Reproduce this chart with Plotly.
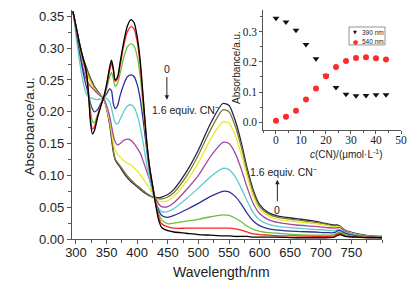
import plotly.graph_objects as go

# ---------------- data ----------------
wavelength = [295, 300, 305, 310, 315, 318, 321, 324, 327, 330, 335, 340, 345, 350, 355,
              358, 361, 364, 368, 372, 378, 384, 390, 395, 400, 405, 410, 415, 420, 425,
              430, 435, 440, 450, 460, 480, 500, 520, 540, 550, 560, 570, 580, 590, 600,
              615, 630, 660, 690, 710, 722, 728, 732, 740, 760, 780, 800]

abs_0_0 = [.358, .335, .310, .290, .272, .255, .220, .180, .165, .170, .190, .207, .222, .243, .270,
           .281, .268, .250, .255, .277, .310, .335, .345, .340, .318, .280, .220, .160, .115, .085,
           .055, .030, .018, .013, .011, .009, .007, .006, .005, .005, .004, .004, .004, .003, .003,
           .003, .003, .002, .002, .002, .003, .006, .007, .004, .003, .002, .002]
abs_0_2 = [.358, .335, .310, .289, .270, .253, .222, .187, .173, .176, .192, .208, .222, .240, .265,
           .276, .265, .248, .252, .272, .304, .326, .334, .330, .310, .273, .216, .158, .115, .085,
           .057, .035, .024, .019, .017, .017, .017, .017, .017, .017, .016, .014, .011, .008, .007,
           .006, .005, .005, .004, .004, .005, .008, .009, .005, .003, .003, .002]
abs_0_4 = [.358, .333, .306, .284, .266, .252, .228, .200, .185, .183, .195, .209, .221, .236, .255,
           .262, .252, .240, .245, .260, .285, .302, .307, .303, .287, .255, .205, .153, .112, .085,
           .060, .040, .030, .024, .025, .028, .031, .035, .038, .037, .033, .027, .020, .015, .012,
           .010, .009, .007, .006, .006, .007, .010, .011, .007, .004, .003, .003]
abs_0_6 = [.358, .330, .300, .271, .247, .236, .224, .212, .204, .200, .203, .212, .221, .228, .236,
           .233, .213, .205, .210, .225, .243, .255, .258, .255, .243, .220, .185, .145, .108, .082,
           .060, .045, .037, .034, .037, .046, .056, .067, .075, .074, .067, .055, .040, .028, .021,
           .016, .014, .012, .011, .010, .010, .013, .013, .009, .005, .004, .003]
abs_0_8 = [.358, .320, .285, .255, .233, .226, .223, .222, .221, .220, .219, .220, .221, .221, .215,
           .206, .193, .183, .181, .188, .200, .209, .211, .207, .195, .176, .150, .120, .094, .074,
           .058, .048, .043, .043, .048, .063, .080, .098, .111, .109, .098, .080, .059, .041, .030,
           .023, .020, .017, .015, .014, .013, .015, .015, .010, .006, .004, .003]
abs_1_0 = [.358, .330, .300, .275, .256, .249, .244, .240, .237, .234, .229, .225, .221, .210, .193,
           .178, .163, .153, .148, .150, .155, .157, .155, .150, .143, .135, .122, .108, .094, .079,
           .064, .055, .051, .051, .057, .077, .100, .130, .152, .150, .135, .110, .080, .055, .040,
           .030, .026, .022, .020, .018, .017, .018, .018, .012, .006, .004, .003]
abs_1_2 = [.358, .332, .305, .283, .268, .260, .252, .246, .240, .236, .230, .226, .221, .207, .187,
           .170, .152, .140, .133, .129, .123, .119, .116, .112, .107, .101, .094, .087, .080, .071,
           .064, .060, .059, .060, .067, .090, .120, .157, .184, .182, .163, .133, .097, .066, .047,
           .036, .031, .027, .024, .021, .019, .020, .019, .013, .007, .004, .003]
abs_1_4 = [.358, .333, .310, .288, .272, .265, .257, .250, .244, .239, .232, .226, .221, .206, .183,
           .163, .140, .126, .120, .115, .107, .099, .093, .088, .084, .080, .076, .072, .069, .066,
           .064, .063, .063, .066, .073, .098, .132, .172, .203, .200, .178, .145, .105, .072, .051,
           .039, .034, .030, .026, .023, .020, .020, .019, .013, .007, .005, .004]
abs_1_6 = [.358, .334, .312, .290, .275, .267, .259, .252, .246, .240, .233, .227, .221, .205, .180,
           .158, .137, .125, .118, .113, .104, .096, .090, .086, .082, .078, .074, .071, .068, .066,
           .065, .065, .066, .070, .078, .105, .140, .182, .213, .210, .187, .152, .110, .076, .054,
           .041, .036, .032, .028, .024, .022, .022, .020, .014, .008, .005, .004]

spectra = [abs_1_6, abs_1_4, abs_1_2, abs_1_0, abs_0_8, abs_0_6, abs_0_4, abs_0_2, abs_0_0]
colors = ["#23234f", "#7d7a32", "#eaea2a", "#a545a5", "#5ccccc", "#2f2f9c", "#66c236", "#ff2020", "#000000"]

# inset titration data
conc = [0, 4, 8, 12, 16, 20, 24, 28, 32, 36, 40, 44]
a390 = [0.345, 0.332, 0.305, 0.258, 0.210, 0.155, 0.115, 0.093, 0.088, 0.089, 0.091, 0.091]
a540 = [0.005, 0.018, 0.038, 0.075, 0.112, 0.152, 0.183, 0.203, 0.213, 0.215, 0.212, 0.208]

x_ticks = [300, 350, 400, 450, 500, 550, 600, 650, 700, 750]
y_ticks = [0.00, 0.05, 0.10, 0.15, 0.20, 0.25, 0.30, 0.35]
inset_x_ticks = [0, 10, 20, 30, 40, 50]
inset_y_ticks = [0.0, 0.1, 0.2, 0.3]

# ---------------- figure ----------------
fig = go.Figure()
for ys, c in zip(spectra, colors):
    fig.add_trace(go.Scatter(x=wavelength, y=ys, mode="lines",
                             line=dict(color=c, width=1.3, shape="spline", smoothing=0.7),
                             xaxis="x", yaxis="y", showlegend=False, hoverinfo="skip"))

fig.add_trace(go.Scatter(x=conc, y=a390, mode="markers", xaxis="x2", yaxis="y2",
                         marker=dict(symbol="triangle-down", size=6, color="#111111"),
                         showlegend=False))
fig.add_trace(go.Scatter(x=conc, y=a540, mode="markers", xaxis="x2", yaxis="y2",
                         marker=dict(symbol="circle", size=6, color="#ff2a2a"),
                         showlegend=False))

axis_common = dict(showline=True, linecolor="#555555", linewidth=1.2, ticks="outside",
                   tickcolor="#555555", showgrid=False, zeroline=False, mirror=False,
                   automargin=False)
main_font = dict(family="Liberation Sans, Arial, sans-serif", size=13, color="#222222")
serif_font = dict(family="Liberation Serif, Times New Roman, serif", size=11.5, color="#222222")

fig.update_layout(
    width=418, height=286, autosize=False,
    margin=dict(l=72, r=13, t=10, b=46.7, pad=0),
    plot_bgcolor="white", paper_bgcolor="white",
    xaxis=dict(domain=[0, 0.931], range=[293.5, 800], tickvals=x_ticks, ticklen=4,
               tickfont=main_font, anchor="y", ticklabelstandoff=-3,
               minor=dict(dtick=25, tick0=300, ticklen=2.5, ticks="outside", tickcolor="#555555"),
               **axis_common),
    yaxis=dict(domain=[0, 1], range=[0, 0.36], tickvals=y_ticks, tickformat=".2f", ticklen=4,
               tickfont=main_font, anchor="x",
               minor=dict(dtick=0.025, tick0=0, ticklen=2.5, ticks="outside", tickcolor="#555555"),
               **axis_common),
    xaxis2=dict(domain=[0.575, 0.988], range=[-5, 50], tickvals=inset_x_ticks, ticklen=3,
                tickfont=serif_font, anchor="y2", ticklabelstandoff=-4,
                minor=dict(dtick=5, tick0=0, ticklen=2, ticks="outside", tickcolor="#555555"),
                **axis_common),
    yaxis2=dict(domain=[0.477, 1], range=[-0.025, 0.372], tickvals=inset_y_ticks, tickformat=".1f",
                ticklen=3, tickfont=serif_font, anchor="x2",
                minor=dict(dtick=0.05, tick0=0, ticklen=2, ticks="outside", tickcolor="#555555"),
                **axis_common),
    showlegend=False,
)

sans = "Liberation Sans, Arial, sans-serif"
ann = []
# axis titles
ann.append(dict(text="Wavelength/nm", xref="paper", yref="paper", x=0.449, y=-0.1426,
                xanchor="center", yanchor="middle", showarrow=False,
                font=dict(family=sans, size=14, color="#222")))
ann.append(dict(text="Absorbance/a.u.", xref="paper", yref="paper", x=-0.126, y=0.491,
                textangle=-90, xanchor="center", yanchor="middle", showarrow=False,
                font=dict(family=sans, size=13.5, color="#222")))
ann.append(dict(text="<i>c</i>(CN)/(μmol·L<sup>-1</sup>)", xref="paper", yref="paper", x=0.823, y=0.372,
                xanchor="center", yanchor="middle", showarrow=False,
                font=dict(family=sans, size=10, color="#222")))
ann.append(dict(text="Absorbance/a.u.", xref="paper", yref="paper", x=0.4955, y=0.747,
                textangle=-90, xanchor="center", yanchor="middle", showarrow=False,
                font=dict(family=sans, size=10, color="#222")))
# spectral annotations
tf = dict(family=sans, size=10.5, color="#222")
ann.append(dict(text="0", x=448.5, y=0.268, xref="x", yref="y", showarrow=False, font=tf))
ann.append(dict(text="", x=448.5, y=0.219, ax=448.5, ay=0.257, xref="x", yref="y",
                axref="x", ayref="y", showarrow=True, arrowhead=2, arrowsize=0.9,
                arrowwidth=1, arrowcolor="#222"))
ann.append(dict(text="1.6 equiv. CN<sup>−</sup>", x=421, y=0.203, xref="x", yref="y",
                xanchor="left", showarrow=False, font=tf))
ann.append(dict(text="1.6 equiv. CN<sup>−</sup>", x=581, y=0.106, xref="x", yref="y",
                xanchor="left", showarrow=False, font=tf))
ann.append(dict(text="", x=629, y=0.093, ax=629, ay=0.057, xref="x", yref="y",
                axref="x", ayref="y", showarrow=True, arrowhead=2, arrowsize=0.9,
                arrowwidth=1, arrowcolor="#222"))
ann.append(dict(text="0", x=629, y=0.046, xref="x", yref="y", showarrow=False, font=tf))
# inset legend (symbols + labels)
lf = dict(family=sans, size=6.5, color="#222")
ann.append(dict(text="▼", xref="paper", yref="paper", x=(355 - 72) / 333, y=(239.3 - 32.3) / 229.3,
                xanchor="center", yanchor="middle", showarrow=False,
                font=dict(family="DejaVu Sans", size=5, color="#111")))
ann.append(dict(text="●", xref="paper", yref="paper", x=(355 - 72) / 333, y=(239.3 - 41.7) / 229.3,
                xanchor="center", yanchor="middle", showarrow=False,
                font=dict(family="DejaVu Sans", size=6, color="#ff2a2a")))
ann.append(dict(text="390 nm", xref="paper", yref="paper", x=(360 - 72) / 333, y=(239.3 - 32.3) / 229.3,
                xanchor="left", yanchor="middle", showarrow=False, font=lf))
ann.append(dict(text="540 nm", xref="paper", yref="paper", x=(360 - 72) / 333, y=(239.3 - 41.7) / 229.3,
                xanchor="left", yanchor="middle", showarrow=False, font=lf))
fig.update_layout(annotations=ann)
fig.add_shape(type="rect", xref="paper", yref="paper",
              x0=(349 - 72) / 333, x1=(385 - 72) / 333,
              y0=(239.3 - 45) / 229.3, y1=(239.3 - 27) / 229.3,
              line=dict(color="#777", width=0.8), fillcolor="rgba(0,0,0,0)")

fig.write_html("out.html", config={"displayModeBar": False},
               post_script="document.body.style.margin='0';")
